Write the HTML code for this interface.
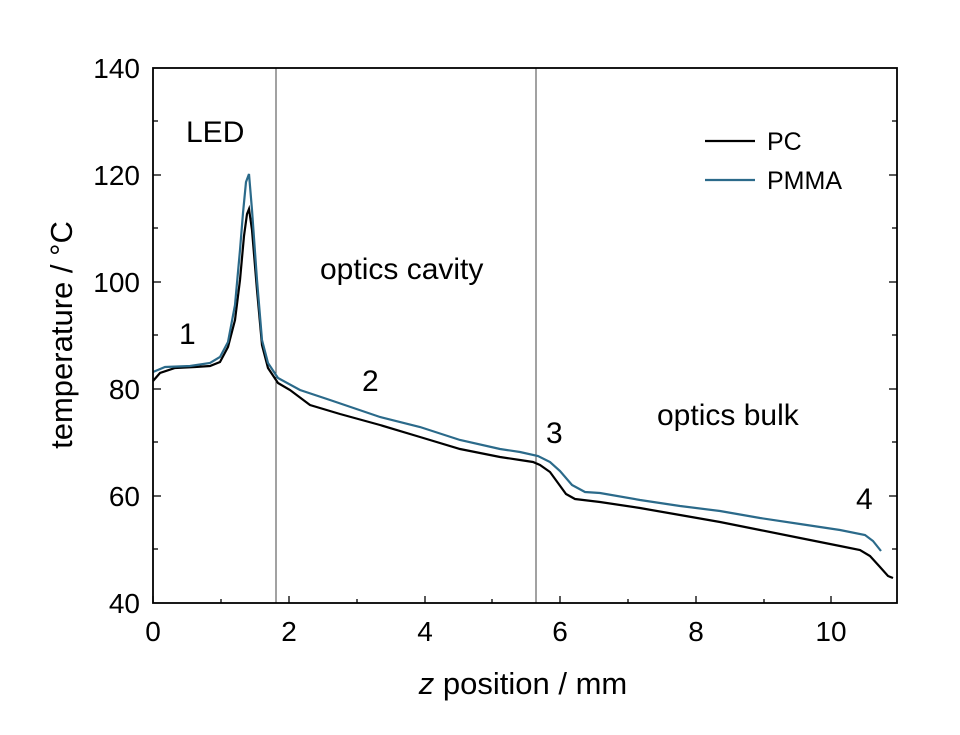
<!DOCTYPE html><html><head><style>body{margin:0;background:#fff}svg text{font-family:"Liberation Sans",sans-serif}</style></head><body>
<svg width="960" height="730" xmlns="http://www.w3.org/2000/svg">
<rect width="960" height="730" fill="#fff"/>
<g stroke="#000" stroke-width="1.3">
<line x1="153" y1="603" x2="153" y2="596"/><line x1="289" y1="603" x2="289" y2="596"/><line x1="425" y1="603" x2="425" y2="596"/><line x1="560" y1="603" x2="560" y2="596"/><line x1="696" y1="603" x2="696" y2="596"/><line x1="831" y1="603" x2="831" y2="596"/>
<line x1="221" y1="603" x2="221" y2="599"/><line x1="357" y1="603" x2="357" y2="599"/><line x1="492" y1="603" x2="492" y2="599"/><line x1="628" y1="603" x2="628" y2="599"/><line x1="764" y1="603" x2="764" y2="599"/>
<line x1="153" y1="175" x2="161" y2="175"/><line x1="153" y1="282" x2="161" y2="282"/><line x1="153" y1="389" x2="161" y2="389"/><line x1="153" y1="496" x2="161" y2="496"/>
<line x1="153" y1="121" x2="158" y2="121"/><line x1="153" y1="228" x2="158" y2="228"/><line x1="153" y1="335" x2="158" y2="335"/><line x1="153" y1="442" x2="158" y2="442"/><line x1="153" y1="549" x2="158" y2="549"/>
<line x1="897" y1="175" x2="889" y2="175"/><line x1="897" y1="282" x2="889" y2="282"/><line x1="897" y1="389" x2="889" y2="389"/><line x1="897" y1="496" x2="889" y2="496"/>
<line x1="897" y1="121" x2="892" y2="121"/><line x1="897" y1="228" x2="892" y2="228"/><line x1="897" y1="335" x2="892" y2="335"/><line x1="897" y1="442" x2="892" y2="442"/><line x1="897" y1="549" x2="892" y2="549"/>
</g>
<line x1="276" y1="68" x2="276" y2="603" stroke="#444" stroke-width="1"/>
<line x1="536" y1="68" x2="536" y2="603" stroke="#444" stroke-width="1"/>
<polyline fill="none" stroke="#000" stroke-width="2.2" points="153,381 160,373 175,368 195,367 210,366 220,362 228,347 235,320 240,280 244,236 247,214 249,209 252,230 257,290 262,345 268,368 278,383 290,390 310,405 340,414 380,425 420,437 460,449 500,457 520,460 533,462 540,465 550,472 558,483 566,494 575,499 600,502 640,508 680,515 720,522 760,530 800,538 840,546 860,550 870,556 880,567 888,576 893,578"/>
<polyline fill="none" stroke="#2b6a8a" stroke-width="2.2" points="153,372 165,367 190,366 210,363 220,357 228,342 235,305 240,250 243,213 246,182 249,174 252,210 257,280 262,340 268,363 278,378 300,390 330,400 380,417 420,427 460,440 500,449 520,452 538,456 550,462 560,471 572,485 585,492 600,493 640,500 680,506 720,511 760,518 800,524 840,530 865,535 873,541 881,551"/>
<rect x="153" y="68" width="744" height="535" fill="none" stroke="#000" stroke-width="1.8"/>
<g font-size="28" text-anchor="middle" fill="#000">
<text x="153" y="641">0</text><text x="289" y="641">2</text><text x="425" y="641">4</text><text x="560" y="641">6</text><text x="696" y="641">8</text><text x="831" y="641">10</text>
</g>
<g font-size="28" text-anchor="end" fill="#000">
<text x="140" y="78">140</text><text x="140" y="185">120</text><text x="140" y="292">100</text><text x="140" y="399">80</text><text x="140" y="506">60</text><text x="140" y="613">40</text>
</g>
<text x="523" y="694" font-size="31" text-anchor="middle"><tspan font-style="italic">z</tspan> position / mm</text>
<text transform="translate(72,335) rotate(-90)" font-size="31" text-anchor="middle">temperature / °C</text>
<g font-size="30">
<text x="186" y="142">LED</text><text x="320" y="279">optics cavity</text><text x="657" y="425">optics bulk</text>
<text x="179" y="344">1</text><text x="362" y="391">2</text><text x="546" y="443">3</text><text x="856" y="509">4</text>
</g>
<g font-size="25">
<text x="767" y="150">PC</text><text x="767" y="189">PMMA</text>
</g>
<line x1="705" y1="141" x2="755" y2="141" stroke="#000" stroke-width="2.2"/>
<line x1="705" y1="180" x2="755" y2="180" stroke="#2b6a8a" stroke-width="2.2"/>
</svg></body></html>
